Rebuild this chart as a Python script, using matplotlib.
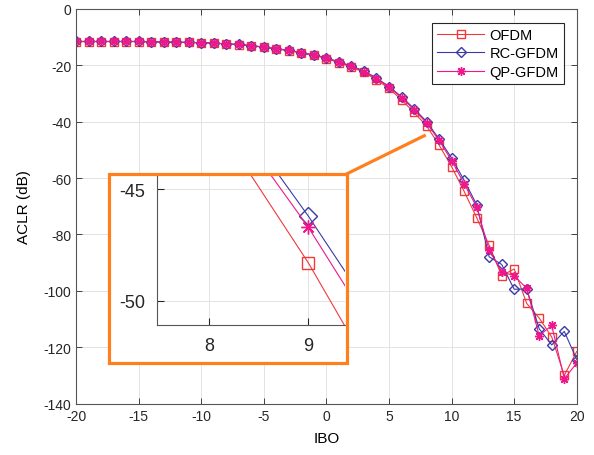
import numpy as np
import matplotlib.pyplot as plt
from matplotlib.patches import Rectangle
from matplotlib.lines import Line2D

plt.rcParams['font.family'] = ['Liberation Sans', 'DejaVu Sans']
plt.rcParams['axes.unicode_minus'] = False

# IBO values (dB)
ibo = list(range(-20, 21))

# ACLR (dB)
aclr_ofdm = [-11.7, -11.7, -11.7, -11.7, -11.7, -11.7, -11.8, -11.85, -11.95, -12.0,
             -12.15, -12.25, -12.55, -12.8, -13.2, -13.75, -14.3, -14.9, -15.8, -16.6,
             -17.7, -19.2, -20.7, -22.6, -25.2, -28.3, -32.3, -36.8, -41.5, -48.3,
             -56.0, -64.7, -74.0, -83.8, -94.6, -92.2, -104.4, -109.6, -116.3, -129.9,
             -121.4]
aclr_rc = [-11.65, -11.65, -11.65, -11.65, -11.65, -11.65, -11.75, -11.8, -11.9, -11.95,
           -12.1, -12.2, -12.5, -12.7, -13.1, -13.65, -14.2, -14.8, -15.6, -16.4,
           -17.4, -18.9, -20.3, -22.1, -24.6, -27.6, -31.2, -35.4, -40.0, -46.2,
           -52.9, -60.8, -69.4, -87.9, -90.6, -99.4, -99.3, -113.4, -119.1, -114.3,
           -124.3]
aclr_qp = [-11.65, -11.65, -11.65, -11.65, -11.65, -11.65, -11.75, -11.8, -11.9, -11.95,
           -12.1, -12.2, -12.5, -12.7, -13.1, -13.65, -14.2, -14.8, -15.65, -16.45,
           -17.5, -19.0, -20.45, -22.3, -24.8, -27.8, -31.5, -35.8, -40.5, -46.7,
           -53.8, -62.0, -70.2, -85.5, -93.2, -94.6, -99.1, -115.8, -112.2, -131.1,
           -125.5]

labels = ['OFDM', 'RC-GFDM', 'QP-GFDM']
colors = ['#F03A3A', '#3A3AA8', '#F0168C']
markers = ['s', 'D', (8, 2, 0)]
series = [aclr_ofdm, aclr_rc, aclr_qp]

fig = plt.figure(figsize=(5.94, 4.56), dpi=100)
ax = fig.add_axes([0.128, 0.112, 0.843, 0.867])

for y, lab, c, m in zip(series, labels, colors, markers):
    ms = 6.5 if m == (8, 2, 0) else 5.5
    ax.plot(ibo, y, color=c, marker=m, markerfacecolor='none', markeredgecolor=c,
            markersize=ms, linewidth=0.8, label=lab)

ax.set_xlim(-20, 20)
ax.set_ylim(-140, 0)
ax.set_xticks(range(-20, 21, 5))
ax.set_yticks(range(-140, 1, 20))
ax.tick_params(direction='in', top=True, right=True, labelsize=10, colors='#262626',
               length=4, width=0.6)
ax.grid(True, color='#E3E3E3', linewidth=0.7)
ax.set_axisbelow(True)
for s in ax.spines.values():
    s.set_color('#555555')
    s.set_linewidth(0.8)
ax.set_xlabel('IBO', fontsize=11, labelpad=6)
ax.set_ylabel('ACLR (dB)', fontsize=11, labelpad=9)

leg = ax.legend(loc='upper right', bbox_to_anchor=(0.9746, 0.9638), borderaxespad=0,
                fancybox=False, framealpha=1, edgecolor='#262626', fontsize=10.5,
                handlelength=3.2, handletextpad=0.4, labelspacing=0.3, borderpad=0.35)
leg.get_frame().set_linewidth(0.8)

# zoom box
orange = '#FF7F1E'
W, H = 594, 456
bx0, bx1, by0, by1 = 109, 346.5, 175, 363.5
fig.add_artist(Rectangle((bx0 / W, 1 - by1 / H), (bx1 - bx0) / W, (by1 - by0) / H,
                         transform=fig.transFigure, facecolor='white',
                         edgecolor='none', zorder=1))

ins = fig.add_axes([157.3 / W, 1 - 325.7 / H, (345 - 157.3) / W, (325.7 - 176) / H])
ins.set_zorder(2)
ins.patch.set_alpha(0)
for y, c, m in zip(series, colors, markers):
    ins.plot(ibo, y, color=c, marker=m, markerfacecolor='none', markeredgecolor=c,
             markersize=10 if m == (8, 2, 0) else 9, linewidth=0.8)
ins.set_xlim(7.475, 9.37)
ins.set_ylim(-51.08, -44.35)
ins.set_xticks([8, 9])
ins.set_yticks([-50, -45])
ins.tick_params(direction='in', labelsize=13, colors='#262626', length=5, width=0.8, pad=9)
ins.grid(True, color='#E3E3E3', linewidth=0.7)
ins.set_axisbelow(True)
ins.spines['top'].set_visible(False)
ins.spines['right'].set_visible(False)
for s in ['left', 'bottom']:
    ins.spines[s].set_color('#555555')

fig.add_artist(Rectangle((bx0 / W, 1 - by1 / H), (bx1 - bx0) / W, (by1 - by0) / H,
                         transform=fig.transFigure, fill=False,
                         edgecolor=orange, linewidth=2.3, zorder=3))
fig.add_artist(Line2D([bx1 / W, 424.3 / W], [1 - by0 / H, 1 - 136.7 / H],
                      transform=fig.transFigure, color=orange, linewidth=2.3, zorder=3))

fig.savefig('out.png', dpi=100)
